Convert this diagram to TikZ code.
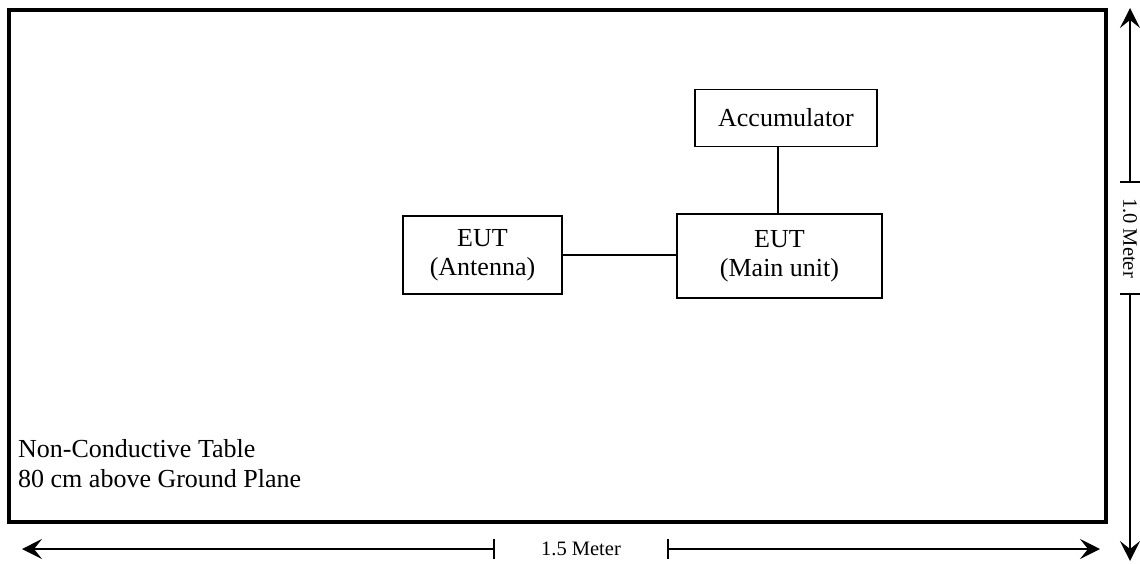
\documentclass[tikz,border=0pt]{standalone}
\usepackage{fontspec}
\setmainfont{Liberation Serif}
\usetikzlibrary{arrows.meta}

\tikzset{
    unitbox/.style={draw, line width=1.6pt, align=center, inner sep=0pt,
        font=\fontsize{26}{29}\selectfont},
    dimlabel/.style={font=\fontsize{20.5}{22}\selectfont, inner ysep=0pt},
    dimarrow/.style={line width=1.6pt,
        {Bar[width=20pt]}-{Stealth[length=20pt,width=20pt,inset=8pt]}},
}

\begin{document}
\begin{tikzpicture}[x=1pt, y=-1pt]
    \useasboundingbox (0,0) rectangle (1140,563);

    % Table
    \draw[line width=3.5pt] (9,10) rectangle (1106,522);
    \node[anchor=base west, align=left, inner sep=0pt,
        font=\fontsize{26}{30}\selectfont] (tabletext) at (18,487)
        {Non-Conductive Table\\80 cm above Ground Plane};

    % Units
    \node[unitbox, minimum width=182pt, minimum height=57pt] (acc) at (786,118) {Accumulator};
    \node[unitbox, minimum width=159pt, minimum height=78pt] (ant) at (482.5,255) {EUT\\(Antenna)};
    \node[unitbox, minimum width=205pt, minimum height=84pt] (main) at (779.5,256) {EUT\\(Main unit)};

    % Cables
    \draw[line width=1.6pt] (ant.east) -- (ant.east -| main.west);
    \draw[line width=1.6pt] (main.north -| 778,0) -- (acc.south -| 778,0);

    % Width (1.5 m)
    \node[dimlabel, minimum width=172pt, inner xsep=0pt] (widlabel) at (581,549) {1.5 Meter};
    \coordinate (widleft) at (22,549);
    \coordinate (widright) at (1100,549);
    \draw[dimarrow] (widlabel.west) -- (widleft);
    \draw[dimarrow] (widlabel.east) -- (widright);

    % Depth (1.0 m)
    \node[dimlabel, rotate=-90, minimum width=110pt, inner xsep=0pt] (deplabel) at (1130,238) {1.0 Meter};
    \coordinate (deptop) at (1130,8);
    \coordinate (depbot) at (1130,561);
    \draw[dimarrow] (deplabel.west) -- (deptop);
    \draw[dimarrow] (deplabel.east) -- (depbot);
\end{tikzpicture}
\end{document}
